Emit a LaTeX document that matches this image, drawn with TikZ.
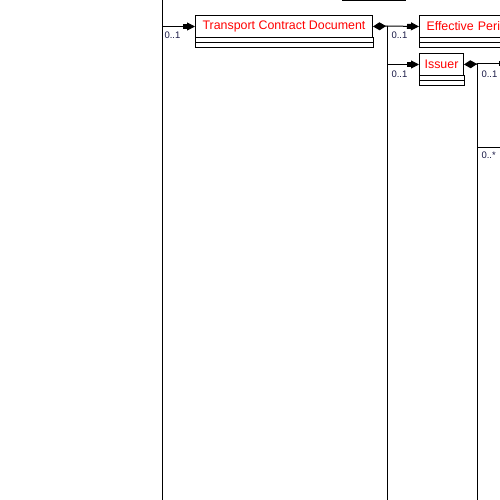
\documentclass[tikz,border=0pt]{standalone}
\usepackage{fontspec}
\setmainfont{Liberation Sans}
\usepackage{tikz}
\usepackage{xcolor}
\usetikzlibrary{calc}
\usetikzlibrary{positioning, arrows.meta}

\definecolor{multcol}{RGB}{25,25,70}

\begin{document}
\begin{tikzpicture}[x=1pt, y=-1pt, line width=1pt,
    classbox/.style={draw, anchor=north west, minimum height=22pt, inner sep=0pt, text=red, font=\fontsize{12.4}{14}\selectfont},
    mult/.style={anchor=base west, inner sep=0pt, text=multcol, font=\fontsize{9.5}{11}\selectfont},
    nav/.style={-{Rectangle[length=4pt,width=5pt]Triangle[length=8pt,width=8pt]}},
    comp/.style={{Diamond[length=13pt,width=8pt]}-}]
                \useasboundingbox (0,0) rectangle (500,500);
                \clip (0,0) rectangle (500,500);

                % the three buses
                \coordinate (busa) at (162,0);
                \coordinate (busaend) at (162,500);
                \coordinate (busb) at (387,26);
                \coordinate (busbend) at (387,500);
                \coordinate (busc) at (477,64);
                \coordinate (buscend) at (477,500);
                \draw (busa) -- (busaend);
                \draw (busb) -- (busbend);
                \draw (busc) -- (buscend);

                % box above, only its lower edge is seen
                \node [draw, anchor=south west, minimum width=63pt, minimum height=30pt, inner sep=0pt] (upper) at (342,1) {};

                % classes
                \node [classbox, minimum width=177pt] (doc) at (195,15) {Transport Contract Document};
                \node [classbox, minimum width=120pt, text width=106pt, inner xsep=7pt, align=left] (period) at (419,15) {Effective Period};
                \node [classbox, minimum width=44pt] (issuer) at (419,53) {Issuer};
                \foreach \c in {doc, period, issuer} {
                    \draw (\c.south west) rectangle ($(\c.south east)+(0,10)$);
                    \draw ($(\c.south west)+(0,5)$) -- ($(\c.south east)+(0,5)$);
                }

                % targets outside the picture
                \coordinate (nexta) at (511,64);
                \coordinate (nextb) at (514,147);

                % connectors
                \draw [nav] (busa |- doc.west) -- (doc.west);
                \draw [comp] (doc.east) -- (busb);
                \draw [nav] (busb) -- (period.west);
                \draw [nav] (busb |- issuer.west) -- (issuer.west);
                \draw [comp] (issuer.east) -- (busc);
                \draw [nav] (busc) -- (nexta);
                \draw [nav] (busc |- nextb) -- (nextb);

                % multiplicities
                \node [mult] (ma) at (164,39) {0..1};
                \node [mult] (mb) at (391,39) {0..1};
                \node [mult] (mc) at (391,78) {0..1};
                \node [mult] (md) at (481,78) {0..1};
                \node [mult] (me) at (481,158) {0..*};
            \end{tikzpicture}
\end{document}
